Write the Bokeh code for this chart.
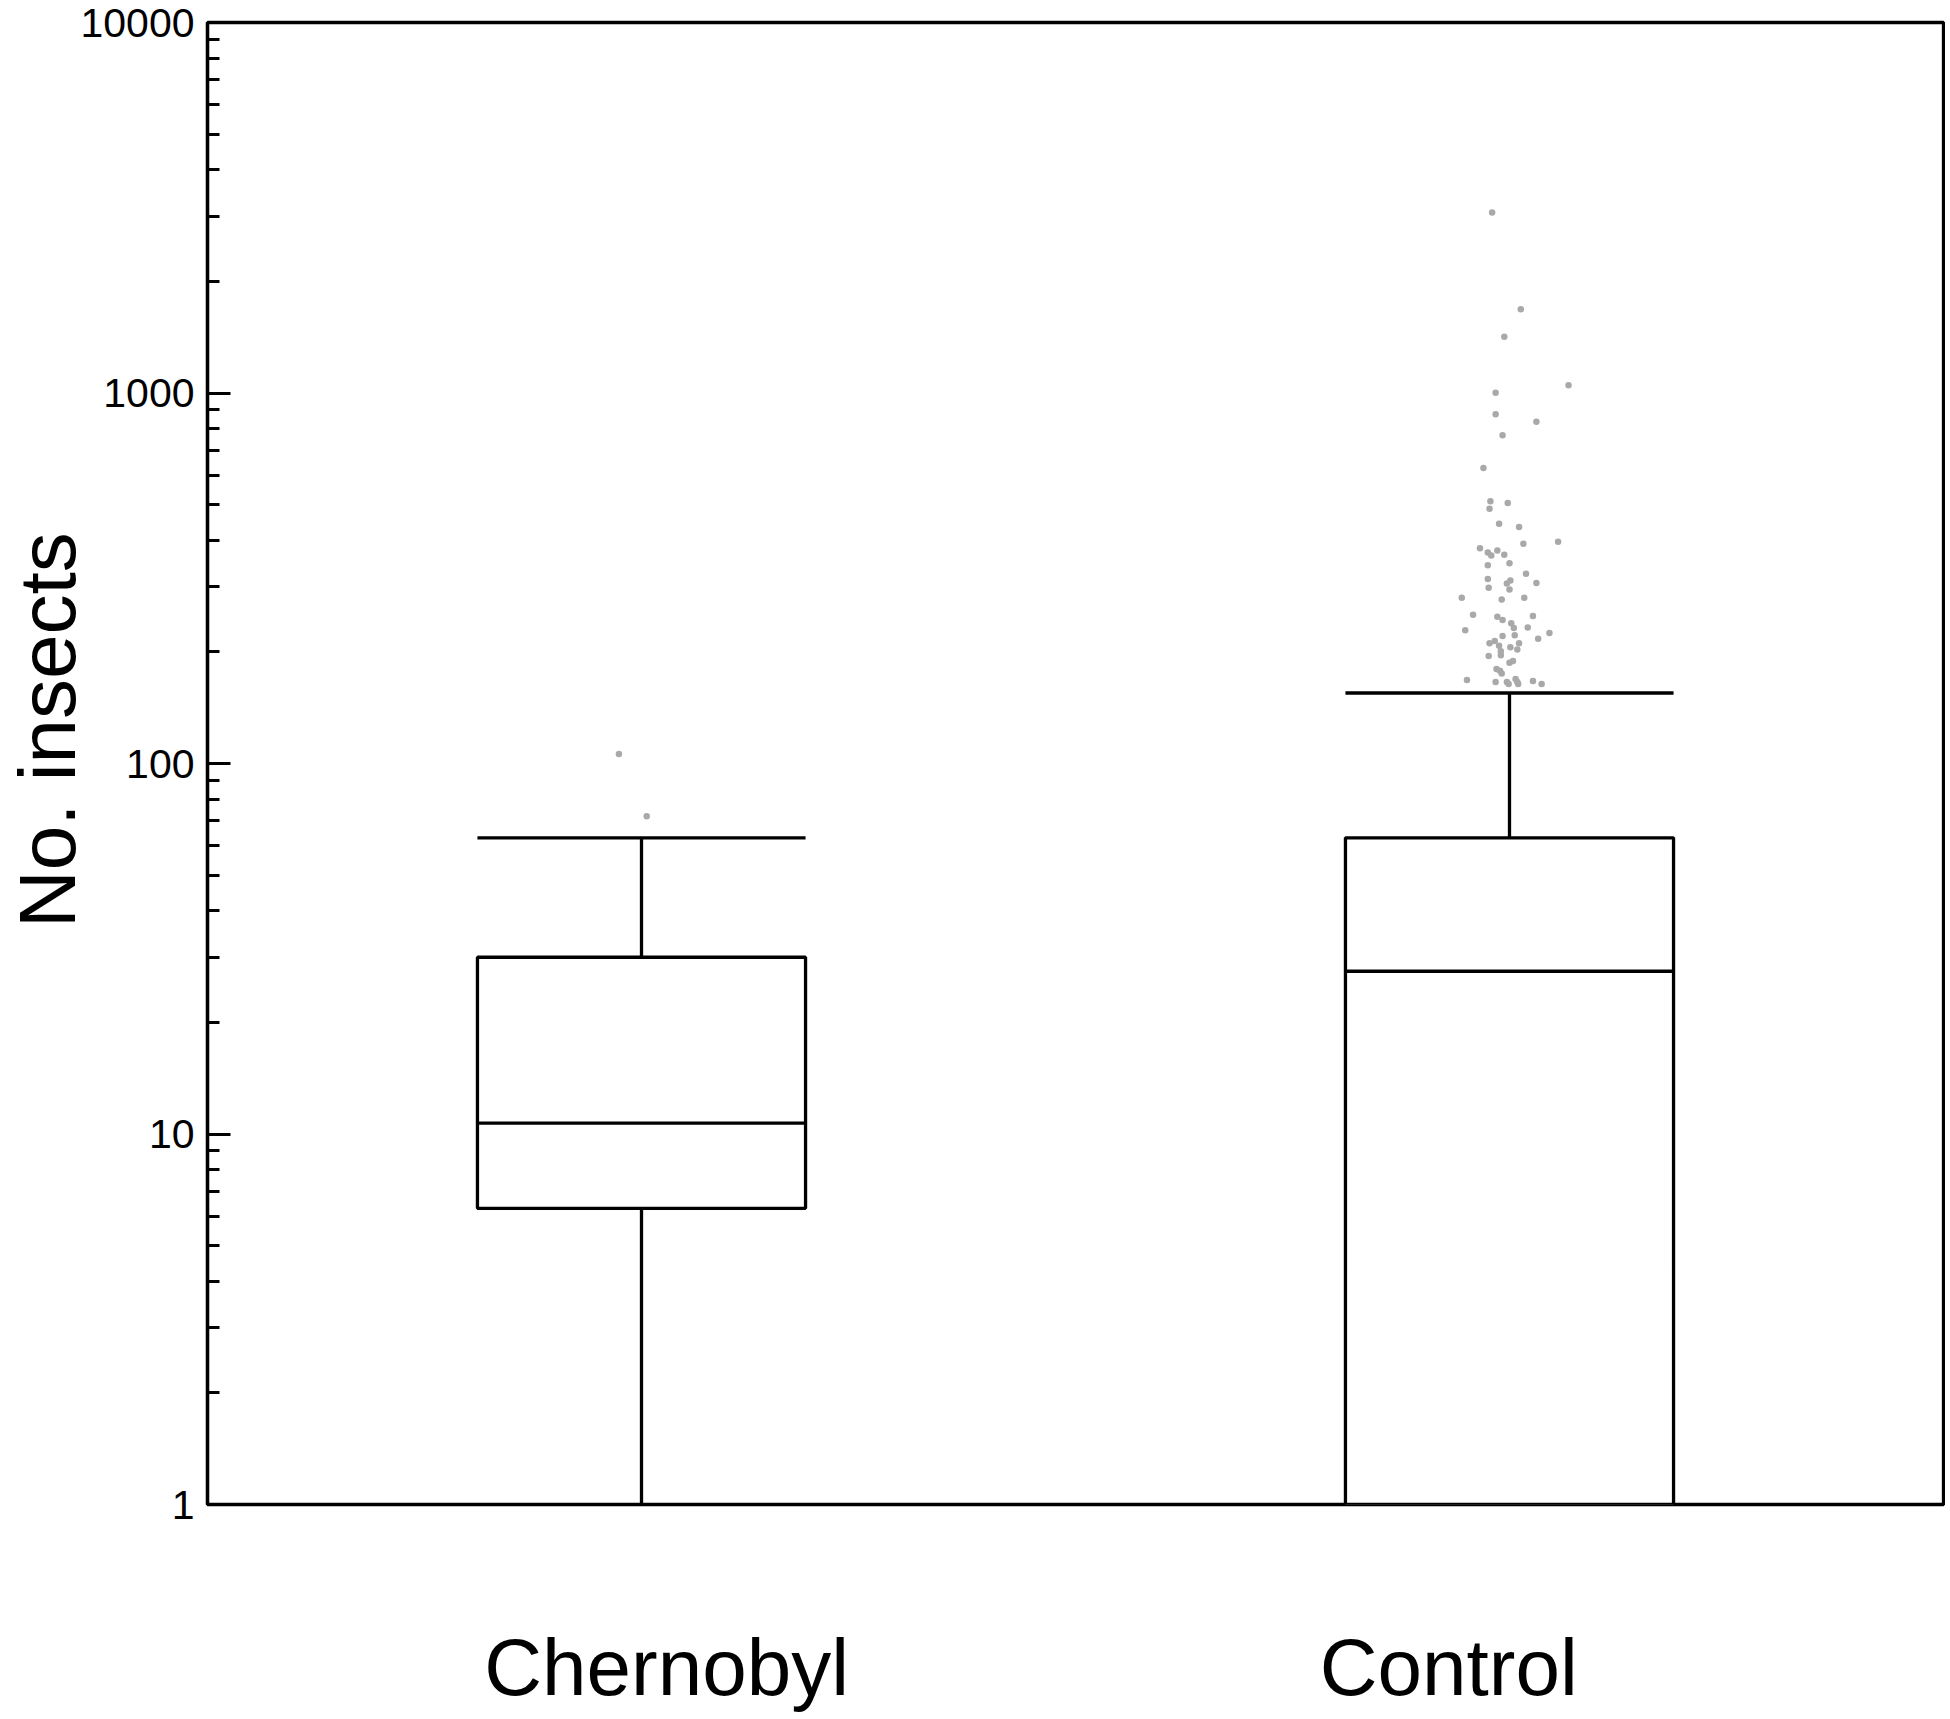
import math
from bokeh.plotting import figure
from bokeh.models import FixedTicker, Range1d, PrintfTickFormatter
from bokeh.embed import file_html
from bokeh.resources import INLINE

# ---- data ----
categories = ["Chernobyl", "Control"]
centers = [0.5, 1.5]
lower_whisker = [1.0, 1.0]
q1 = [6.3, 1.0]
median = [10.7, 27.5]
q3 = [30.0, 63.0]
upper_whisker = [63.0, 155.0]

cher_out_vals = [106, 72]
cher_out_jitter = [-0.026, 0.006]

ctrl_out_vals = [3070, 1684, 1419, 1050, 1001, 876, 836, 769, 627, 510,
                 487, 505, 444, 435, 397, 392, 381, 371, 364, 376,
                 366, 347, 343, 325, 315, 312, 306, 307, 298, 295,
                 280, 277, 280, 252, 249, 244, 250, 239, 232, 233,
                 229, 225, 221, 222, 217, 211, 214, 208, 211, 206,
                 203, 201, 195, 196, 187, 189, 180, 178, 175, 168,
                 166, 166, 164, 169, 166, 164, 167, 164]
ctrl_out_jitter = [-0.020, 0.013, -0.006, 0.068, -0.016, -0.016, 0.031, -0.008, -0.030, -0.022,
                   -0.023, -0.002, -0.012, 0.011, 0.056, 0.016, -0.034, -0.025, -0.021, -0.014,
                   -0.006, 0.000, -0.025, 0.019, -0.025, 0.001, -0.003, 0.031, -0.024, 0.000,
                   -0.055, -0.009, 0.017, -0.042, -0.014, -0.008, 0.027, 0.002, 0.005, 0.021,
                   -0.051, 0.046, -0.008, 0.006, 0.033, -0.023, -0.017, -0.012, 0.011, 0.001,
                   0.009, -0.010, -0.024, -0.010, 0.000, 0.004, -0.015, -0.011, -0.009, -0.049,
                   -0.016, -0.003, -0.001, 0.007, 0.009, 0.010, 0.027, 0.037]

y_major_ticks = [1, 10, 100, 1000, 10000]
y_label = "No. insects"

# ---- layout constants ----
BOX_W = 0.378
LABEL_POS = [0.529, 1.43]
FONT = "Liberation Sans"
LW = 3.3
# non-breaking spaces before the title lift it above the frame's centre, as in the original
TITLE_PAD = "\u00a0" * 3

p = figure(width=1945, height=1715, y_axis_type="log",
           x_range=Range1d(0, 2), y_range=Range1d(1, 10000),
           output_backend="svg", toolbar_location=None,
           min_border_left=207, min_border_right=2,
           min_border_top=22, min_border_bottom=211)
p.grid.visible = False
p.outline_line_color = "black"
p.outline_line_width = LW
p.background_fill_color = "white"
p.border_fill_color = "white"

ya = p.yaxis[0]
ya.ticker = FixedTicker(ticks=y_major_ticks,
                        minor_ticks=[m * 10 ** k for k in range(4) for m in range(2, 10)])
ya.formatter = PrintfTickFormatter(format="%d")
ya.major_tick_in = 23
ya.major_tick_out = 0
ya.minor_tick_in = 12
ya.minor_tick_out = 0
ya.major_tick_line_width = 3
ya.minor_tick_line_width = 3
ya.axis_line_width = LW
ya.axis_line_color = "black"
ya.major_tick_line_color = "black"
ya.minor_tick_line_color = "black"
ya.major_label_text_font = FONT
ya.major_label_text_font_size = "41px"
ya.major_label_text_color = "black"
ya.major_label_standoff = 13
ya.axis_label = TITLE_PAD + y_label
ya.axis_label_text_font = FONT
ya.axis_label_text_font_size = "80px"
ya.axis_label_text_font_style = "normal"
ya.axis_label_text_color = "black"
ya.axis_label_standoff = -15

xa = p.xaxis[0]
xa.ticker = FixedTicker(ticks=LABEL_POS)
xa.major_label_overrides = {LABEL_POS[i]: categories[i] for i in range(len(categories))}
xa.major_tick_in = 0
xa.major_tick_out = 0
xa.minor_tick_in = 0
xa.minor_tick_out = 0
xa.axis_line_color = None
xa.major_tick_line_color = None
xa.minor_tick_line_color = None
xa.major_label_text_font = FONT
xa.major_label_text_font_size = "80px"
xa.major_label_text_color = "black"
xa.major_label_standoff = 118

lefts = [c - BOX_W / 2 for c in centers]
rights = [c + BOX_W / 2 for c in centers]

p.segment(x0=centers, y0=q3, x1=centers, y1=upper_whisker, line_color="black", line_width=LW)
p.segment(x0=centers, y0=lower_whisker, x1=centers, y1=q1, line_color="black", line_width=LW)
p.quad(left=lefts, right=rights, bottom=q1, top=q3, fill_color="white",
       line_color="black", line_width=LW)
p.segment(x0=lefts, y0=median, x1=rights, y1=median, line_color="black", line_width=LW)
p.segment(x0=lefts, y0=upper_whisker, x1=rights, y1=upper_whisker, line_color="black", line_width=LW)

p.scatter(x=[centers[0] + j for j in cher_out_jitter], y=cher_out_vals,
          size=6.5, fill_color="#a9a9a9", line_color=None)
p.scatter(x=[centers[1] + j for j in ctrl_out_jitter], y=ctrl_out_vals,
          size=6.5, fill_color="#a9a9a9", line_color=None)

open("out.html", "w").write(file_html(p, INLINE))
